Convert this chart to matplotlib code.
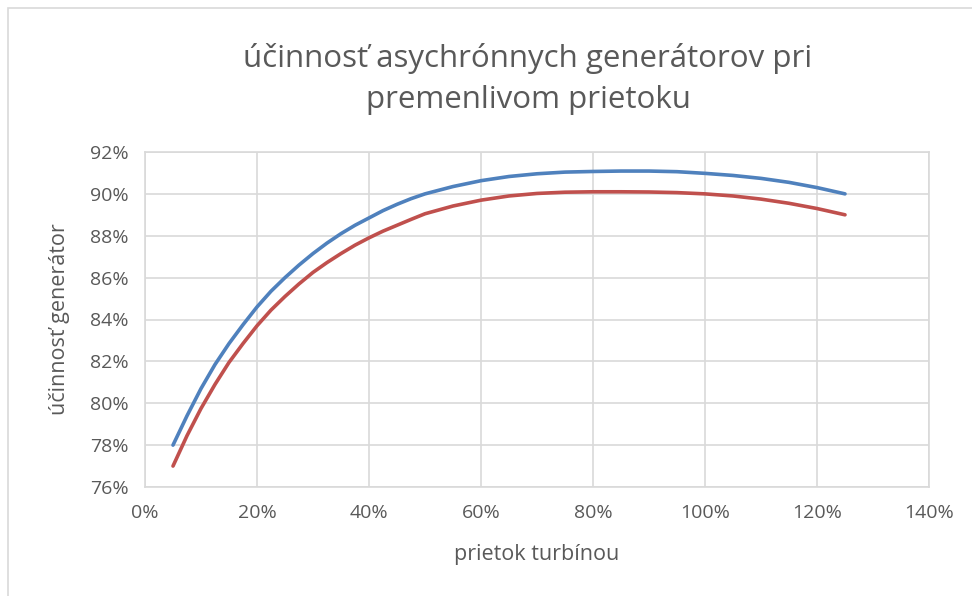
import matplotlib
matplotlib.use("Agg")
import matplotlib.pyplot as plt
from matplotlib.ticker import FuncFormatter, MultipleLocator
from matplotlib.patches import Rectangle

# flow through turbine (%)
flow = [5, 7.5, 10, 12.5, 15, 17.5, 20, 22.5, 25, 27.5, 30, 32.5, 35, 37.5,
        40, 42.5, 45, 47.5, 50, 55, 60, 65, 70, 75, 80, 85, 90, 95, 100,
        105, 110, 115, 120, 125]
eff_blue = [78.0, 79.4, 80.7, 81.85, 82.85, 83.75, 84.6, 85.35, 86.0, 86.6,
            87.15, 87.65, 88.1, 88.5, 88.85, 89.2, 89.5, 89.77, 90.0,
            90.35, 90.63, 90.83, 90.96, 91.04, 91.07, 91.09, 91.09, 91.06,
            90.98, 90.88, 90.74, 90.55, 90.3, 90.0]
eff_red = [77.0, 78.45, 79.75, 80.9, 81.95, 82.85, 83.7, 84.45, 85.1, 85.7,
           86.25, 86.72, 87.15, 87.55, 87.9, 88.22, 88.5, 88.78, 89.05,
           89.42, 89.7, 89.9, 90.02, 90.08, 90.1, 90.1, 90.09, 90.06,
           90.0, 89.9, 89.75, 89.55, 89.3, 89.0]

title = "účinnosť asychrónnych generátorov pri\npremenlivom prietoku"
xlabel = "prietok turbínou"
ylabel = "účinnosť generátor"

plt.rcParams['font.family'] = ['Open Sans', 'DejaVu Sans']
txt = '#595959'
grid = '#d9d9d9'

fig = plt.figure(figsize=(9.72, 5.96), dpi=100)
W, H = 972, 596

# chart frame
fig.patches.append(Rectangle((8 / W, -0.1), 1.2, 1 - 8 / H + 0.1,
                             transform=fig.transFigure, fill=False,
                             edgecolor=grid, linewidth=1.2))

ax = fig.add_axes([145 / W, 1 - 487 / H, (929 - 145) / W, (487 - 152) / H])
ax.plot(flow, eff_blue, color='#4F81BD', linewidth=2.6, solid_capstyle='round')
ax.plot(flow, eff_red, color='#C0504D', linewidth=2.6, solid_capstyle='round')

ax.set_xlim(0, 140)
ax.set_ylim(76, 92)
ax.xaxis.set_major_locator(MultipleLocator(20))
ax.yaxis.set_major_locator(MultipleLocator(2))
ax.xaxis.set_major_formatter(FuncFormatter(lambda v, p: '{:.0f}%'.format(v)))
ax.yaxis.set_major_formatter(FuncFormatter(lambda v, p: '{:.0f}%'.format(v)))
ax.grid(True, color=grid, linewidth=1.2)
ax.set_axisbelow(True)
for s in ax.spines.values():
    s.set_color(grid)
    s.set_linewidth(1.2)
ax.tick_params(length=0, labelsize=14, labelcolor=txt, pad=12)

ax.set_xlabel(xlabel, fontsize=15.5, color=txt, labelpad=16)
ax.set_ylabel(ylabel, fontsize=15.5, color=txt, labelpad=14)

fig.text(528 / W, 1 - 79 / H, title, ha='center', va='center', fontsize=22.5,
         color=txt, linespacing=1.45)

fig.savefig('out.png', dpi=100)
